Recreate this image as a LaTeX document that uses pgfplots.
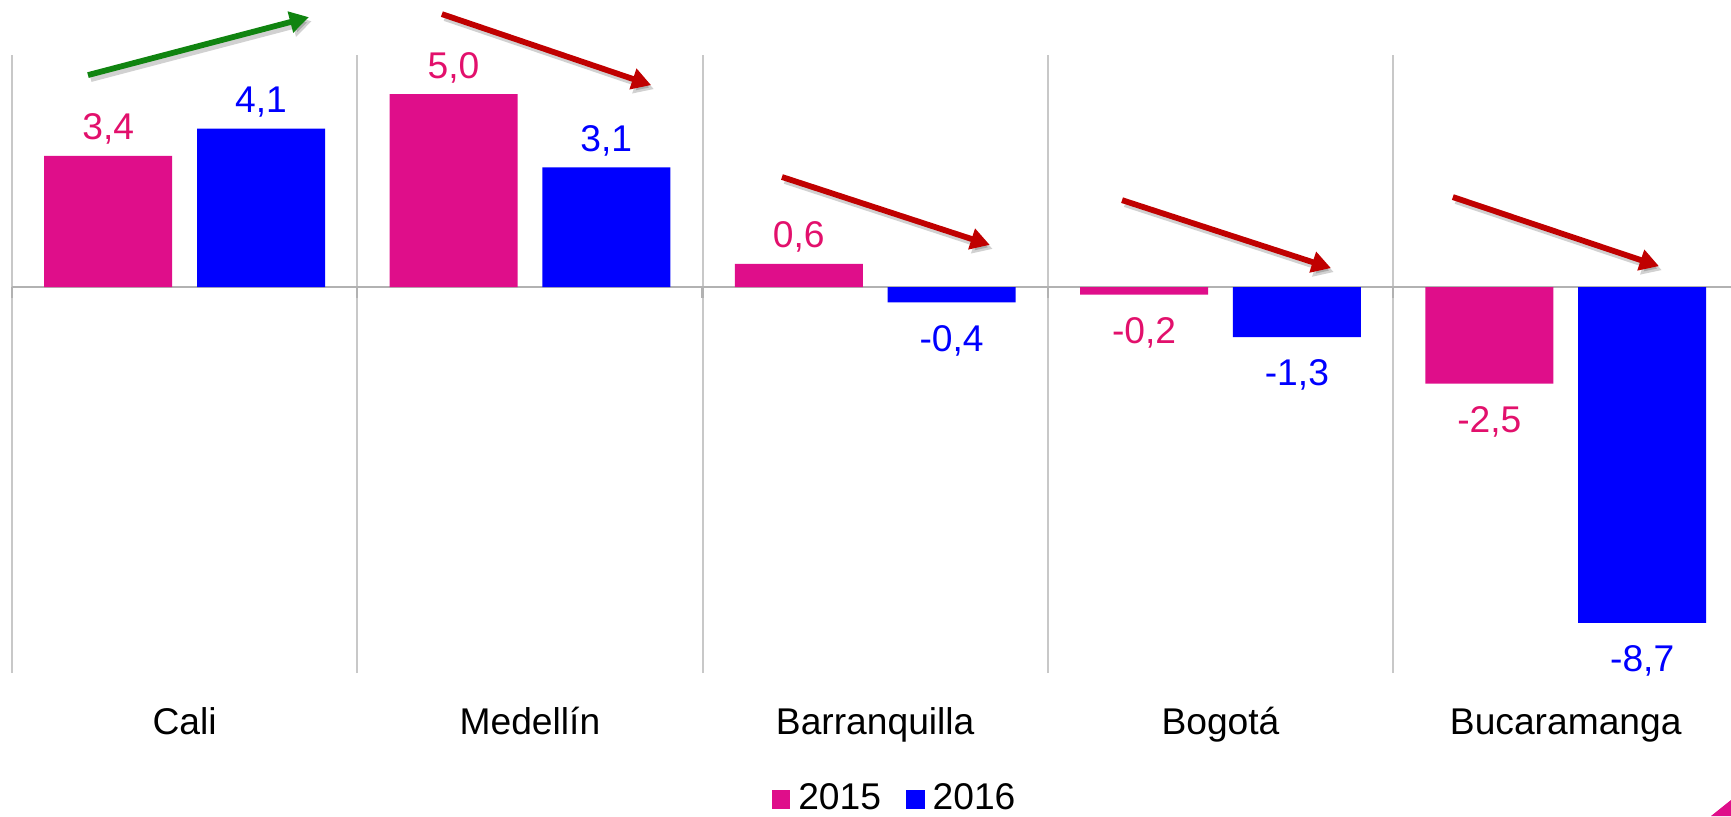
\documentclass[border=0pt]{standalone}
\usepackage{pgfplots}
\pgfplotsset{compat=1.18}
\usepackage{fontspec}
\setmainfont{Liberation Sans}
\usetikzlibrary{arrows.meta}

\definecolor{barpink}{RGB}{223,14,138}
\definecolor{txtpink}{RGB}{226,16,108}
\definecolor{gridgray}{RGB}{200,200,200}
\definecolor{zerogray}{RGB}{178,178,178}
\definecolor{arrowred}{RGB}{192,0,0}
\definecolor{arrowgreen}{RGB}{16,132,16}

% trend arrow with a soft shadow: colour, x1, y1, x2, y2
\newcommand\trend[5]{%
  \draw[line width=1.45pt, black, opacity=0.18, xshift=0.7pt, yshift=-1pt,
    -{Triangle[length=4.8pt,width=5.2pt]}] (axis cs:#2,#3) -- (axis cs:#4,#5);
  \draw[line width=1.45pt, #1, -{Triangle[length=4.8pt,width=5.2pt]}]
    (axis cs:#2,#3) -- (axis cs:#4,#5);
}

\begin{document}
\begin{tikzpicture}[font=\fontsize{9.3}{11}\selectfont]
\useasboundingbox (-3pt,-35.75pt) rectangle (429.75pt,168.25pt);
\clip (-3pt,-35.75pt) rectangle (429.75pt,168.25pt);
\begin{axis}[
  at={(0,0)}, anchor=south west,
  scale only axis, width=431.6pt, height=154.4pt,
  xmin=-0.5, xmax=4.5, ymin=-10, ymax=6,
  clip=false,
  axis line style={draw=none},
  tick style={draw=none},
  ytick=\empty,
  xtick={0,1,2,3,4},
  xticklabels={Cali,Medellín,Barranquilla,Bogotá,Bucaramanga},
  xticklabel style={anchor=base, yshift=-11.2pt},
  minor xtick={-0.5,0.5,1.5,2.5,3.5,4.5},
  xminorgrids,
  minor grid style={draw=gridgray, line width=0.5pt},
  extra y ticks={0},
  extra y tick labels={},
  extra y tick style={grid=major, major grid style={draw=zerogray, line width=0.6pt}},
  ybar, bar width=32pt,
  /pgf/number format/.cd, fixed, fixed zerofill, precision=1, use comma, assume math mode=true,
  /pgfplots/.cd,
  nodes near coords,
  nodes near coords align=vertical,
  pos/.style={every node near coord/.append style={inner ysep=2.6pt}},
  neg/.style={every node near coord/.append style={inner ysep=5.5pt}},
  legend columns=2,
  legend style={draw=none, fill=none, at={(axis description cs:0.513,-0.205)},
    anchor=center, inner sep=0pt,
    /tikz/every even column/.append style={column sep=4.3pt}},
  legend image code/.code={\fill[#1] (0pt,-2.3pt) rectangle (4.6pt,2.3pt);},
]
% 2015
\addplot[fill=barpink, draw=none, bar shift=-19.1pt, pos,
  every node near coord/.append style={text=txtpink}, forget plot]
  coordinates {(0,3.4) (1,5.0) (2,0.6)};
\addplot[fill=barpink, draw=none, bar shift=-19.1pt, neg,
  every node near coord/.append style={text=txtpink}, forget plot]
  coordinates {(3,-0.2) (4,-2.5)};
% 2016
\addplot[fill=blue, draw=none, bar shift=19.1pt, pos,
  every node near coord/.append style={text=blue}, forget plot]
  coordinates {(0,4.1) (1,3.1)};
\addplot[fill=blue, draw=none, bar shift=19.1pt, neg,
  every node near coord/.append style={text=blue}, forget plot]
  coordinates {(2,-0.4) (3,-1.3) (4,-8.7)};

\addlegendimage{fill=barpink, draw=none}
\addlegendentry{2015}
\addlegendimage{fill=blue, draw=none}
\addlegendentry{2016}

\pgfplotsinvokeforeach{-0.5,0.5,1.5,2.5,3.5,4.5}{
  \draw[zerogray, line width=0.6pt] (axis cs:#1,0) -- ++(0pt,-2.75pt);
}

\trend{arrowgreen}{-0.28}{5.49}{0.36}{6.99}
\trend{arrowred}{0.745}{7.07}{1.351}{5.23}
\trend{arrowred}{1.73}{2.85}{2.332}{1.09}
\trend{arrowred}{2.715}{2.25}{3.32}{0.49}
\trend{arrowred}{3.673}{2.33}{4.27}{0.54}
\end{axis}
\fill[barpink] (424.75pt,-35.75pt) -- (429.75pt,-31.75pt) -- (429.75pt,-35.75pt) -- cycle;
\end{tikzpicture}
\end{document}
